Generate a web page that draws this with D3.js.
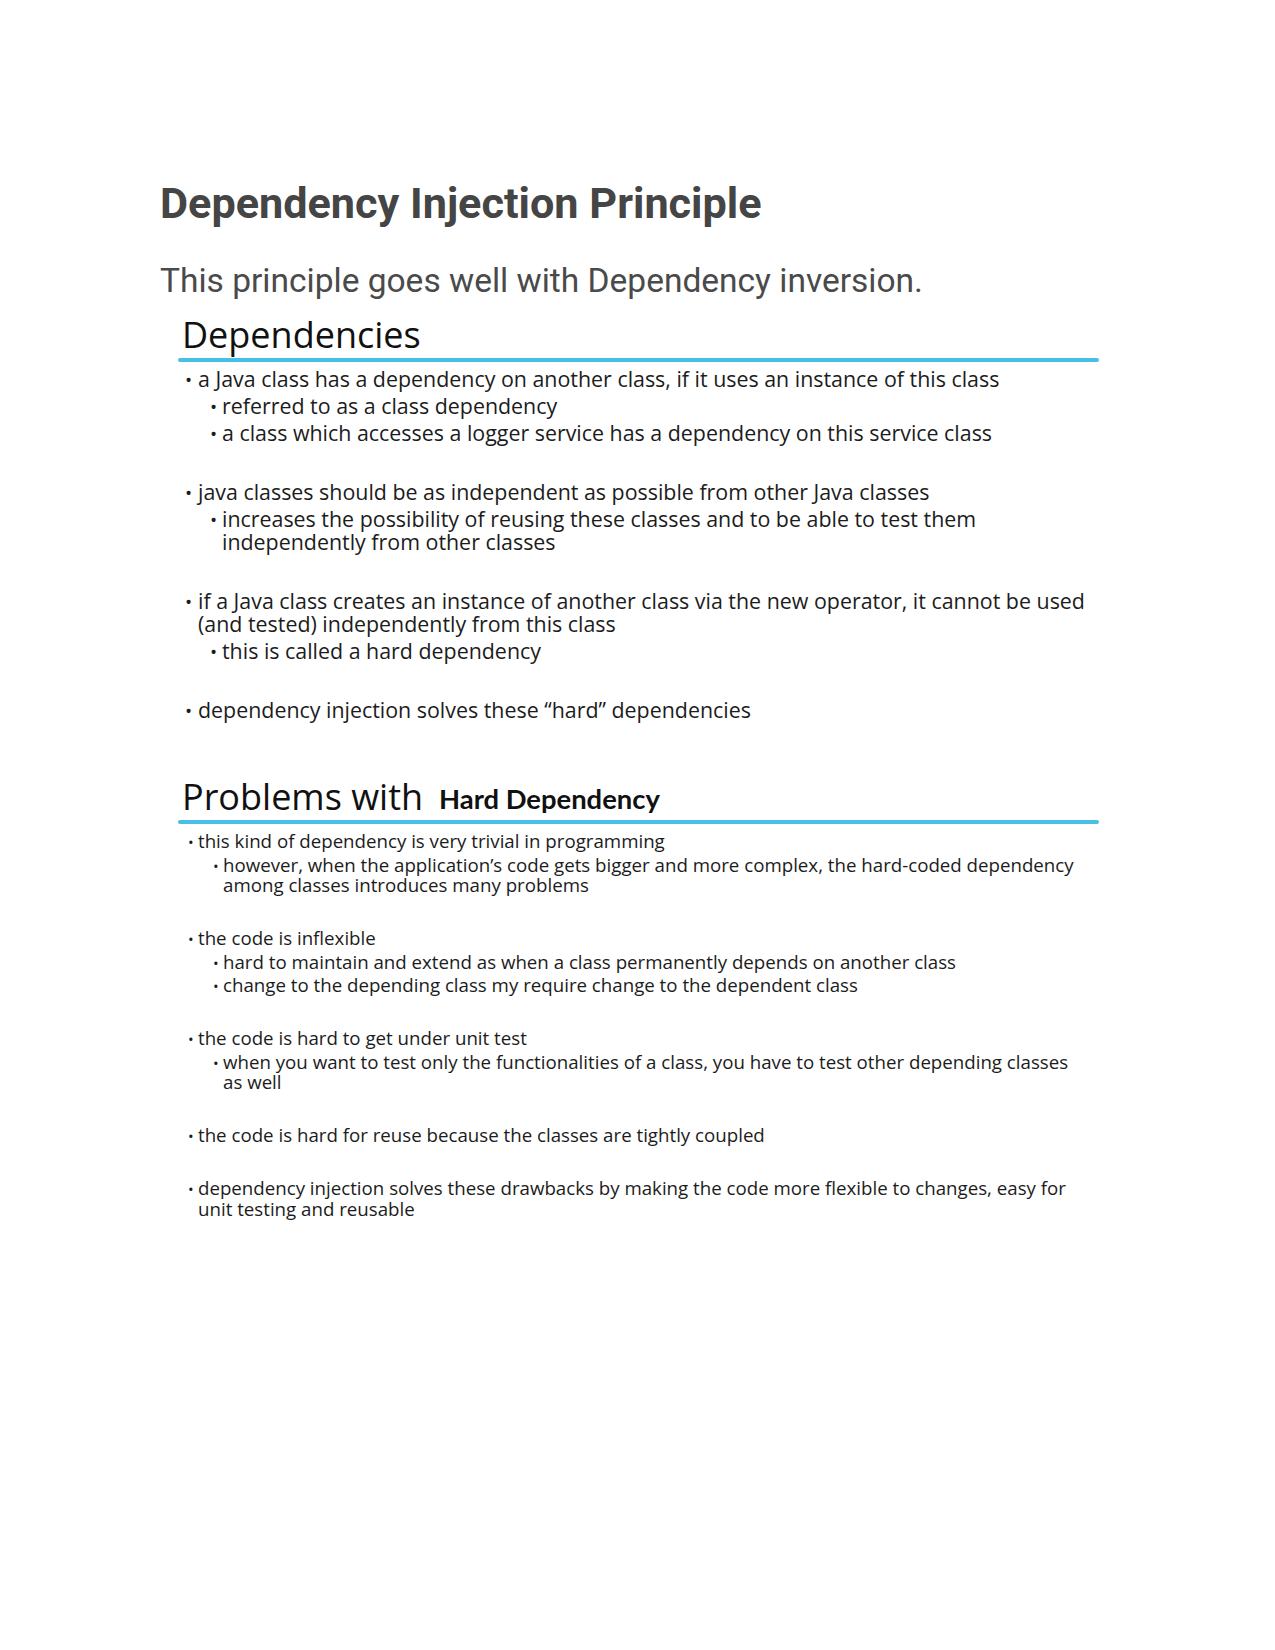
<!DOCTYPE html>
<html>
<head>
<meta charset="utf-8">
<script src="https://cdn.jsdelivr.net/npm/d3@7"></script>
<style>
  html, body { margin: 0; padding: 0; background: #fff; }
  svg { display: block; }
</style>
</head>
<body>
<script>
// ---------- content ----------
const pageTitle = "Dependency Injection Principle";
const pageSubtitle = "This principle goes well with Dependency inversion.";
const heading1 = ["Dependencies"];
const heading2 = ["Problems with", "Hard Dependency"];

const dependencyGroups = [
  [
    { level: 1, lines: ["a Java class has a dependency on another class, if it uses an instance of this class"] },
    { level: 2, lines: ["referred to as a class dependency"] },
    { level: 2, lines: ["a class which accesses a logger service has a dependency on this service class"] }
  ],
  [
    { level: 1, lines: ["java classes should be as independent as possible from other Java classes"] },
    { level: 2, lines: ["increases the possibility of reusing these classes and to be able to test them", "independently from other classes"] }
  ],
  [
    { level: 1, lines: ["if a Java class creates an instance of another class via the new operator, it cannot be used", "(and tested) independently from this class"] },
    { level: 2, lines: ["this is called a hard dependency"] }
  ],
  [
    { level: 1, lines: ["dependency injection solves these \u201chard\u201d dependencies"] }
  ]
];

const problemGroups = [
  [
    { level: 1, lines: ["this kind of dependency is very trivial in programming"] },
    { level: 2, lines: ["however, when the application\u2019s code gets bigger and more complex, the hard-coded dependency", "among classes introduces many problems"] }
  ],
  [
    { level: 1, lines: ["the code is inflexible"] },
    { level: 2, lines: ["hard to maintain and extend as when a class permanently depends on another class"] },
    { level: 2, lines: ["change to the depending class my require change to the dependent class"] }
  ],
  [
    { level: 1, lines: ["the code is hard to get under unit test"] },
    { level: 2, lines: ["when you want to test only the functionalities of a class, you have to test other depending classes", "as well"] }
  ],
  [
    { level: 1, lines: ["the code is hard for reuse because the classes are tightly coupled"] }
  ],
  [
    { level: 1, lines: ["dependency injection solves these drawbacks by making the code more flexible to changes, easy for", "unit testing and reusable"] }
  ]
];

// ---------- drawing ----------
const W = 1275, H = 1650;
const svg = d3.select("body").append("svg").attr("width", W).attr("height", H);

const ACCENT = "#48c0e6";

// header
svg.append("text").text(pageTitle)
  .attr("x", 160).attr("y", 218)
  .attr("font-family", "Roboto, 'Liberation Sans', sans-serif")
  .attr("font-weight", 700).attr("font-size", 43.2)
  .attr("fill", "#454545");

svg.append("text").text(pageSubtitle)
  .attr("x", 160).attr("y", 292)
  .attr("font-family", "Roboto, 'Liberation Sans', sans-serif")
  .attr("font-weight", 400).attr("font-size", 33.5)
  .attr("fill", "#4a4a4a");

// layout of one section
function drawSection(cfg) {
  const g = svg.append("g");
  // heading
  g.append("text").text(cfg.heading[0])
    .attr("x", cfg.headX).attr("y", cfg.headY)
    .attr("font-family", "'Open Sans', sans-serif")
    .attr("font-size", 36).attr("fill", "#111");
  if (cfg.heading[1]) {
    g.append("text").text(cfg.heading[1])
      .attr("x", cfg.head2X).attr("y", cfg.headY - 1)
      .attr("font-family", "Lato, 'Open Sans', sans-serif")
      .attr("font-weight", 700).attr("font-size", 27.4).attr("fill", "#111");
  }
  // rule
  g.append("line")
    .attr("x1", 180).attr("x2", 1097)
    .attr("y1", cfg.ruleY).attr("y2", cfg.ruleY)
    .attr("stroke", ACCENT).attr("stroke-width", 4)
    .attr("stroke-linecap", "round");

  // flatten rows
  const rows = [];
  let y = cfg.startY;
  cfg.groups.forEach((grp, gi) => {
    grp.forEach((item, ii) => {
      item.lines.forEach((ln, li) => {
        if (!(gi === 0 && ii === 0 && li === 0)) {
          if (li > 0) y += cfg.contStep;
          else if (ii === 0) y += cfg.groupStep;
          else y += cfg.paraStep;
        }
        rows.push({ level: item.level, text: ln, first: li === 0, y });
      });
    });
  });

  const textX = d3.scaleOrdinal().domain([1, 2]).range(cfg.textX);
  const bulletX = d3.scaleOrdinal().domain([1, 2]).range(cfg.bulletX);

  g.selectAll("text.row").data(rows).join("text")
    .attr("class", "row")
    .attr("x", d => textX(d.level)).attr("y", d => d.y)
    .attr("font-family", "'Open Sans', sans-serif")
    .attr("font-size", cfg.fontSize).attr("fill", "#1c1c1c")
    .text(d => d.text);

  g.selectAll("text.bullet").data(rows.filter(d => d.first)).join("text")
    .attr("class", "bullet")
    .attr("x", d => bulletX(d.level)).attr("y", d => d.y)
    .attr("font-family", "'Open Sans', sans-serif")
    .attr("font-size", cfg.bulletSize).attr("fill", "#1c1c1c")
    .text("\u2022");
}

drawSection({
  heading: heading1, headX: 182, headY: 348, ruleY: 360,
  groups: dependencyGroups,
  startY: 387, paraStep: 27, contStep: 23, groupStep: 59,
  fontSize: 21.4, bulletSize: 19,
  textX: [198, 222], bulletX: [185, 210]
});

drawSection({
  heading: heading2, headX: 182, head2X: 439, headY: 810, ruleY: 822,
  groups: problemGroups,
  startY: 848, paraStep: 23.5, contStep: 20.5, groupStep: 53,
  fontSize: 18.7, bulletSize: 15,
  textX: [198, 223], bulletX: [188, 213]
});
</script>
</body>
</html>
